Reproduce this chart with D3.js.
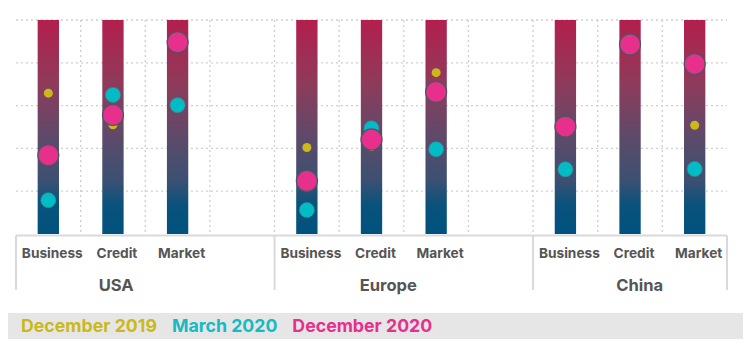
<!DOCTYPE html>
<html>
<head>
<meta charset="utf-8">
<script src="https://cdn.jsdelivr.net/npm/d3@7"></script>
<style>
  html, body { margin: 0; padding: 0; background: #fff; }
  svg { display: block; font-family: Inter, Roboto, "Liberation Sans", sans-serif; }
</style>
</head>
<body>
<svg id="chart" width="750" height="350"></svg>
<script>
// ---- data ----
const groups = ["USA", "Europe", "China"];
const subcats = ["Business", "Credit", "Market"];
const seriesNames = ["December 2019", "March 2020", "December 2020"];
const dec2019 = [3.29, 2.55, 4.47, 2.02, 2.05, 3.77, 2.50, 4.43, 2.54];
const mar2020 = [0.79, 3.25, 3.01, 0.56, 2.47, 1.98, 1.51, 4.43, 1.52];
const dec2020 = [1.84, 2.78, 4.48, 1.24, 2.21, 3.32, 2.51, 4.43, 3.97];
const yTicks = [1, 2, 3, 4, 5];

// ---- layout ----
const svg = d3.select("#chart");
const pLeft = 16, pRight = 727, pTop = 20, pBottom = 234;
const fw = 700;

// fit a font size so that a sample text gets a target width
function fitSize(sample, weight, target) {
  const t = svg.append("text").attr("font-size", 20).attr("font-weight", weight).text(sample);
  const w = t.node().getComputedTextLength();
  t.remove();
  return 20 * target / w;
}
const catSize = fitSize("Business", fw, 61);
const grpSize = fitSize("China", fw, 47);
const legSize = fitSize("December 2019", fw, 136);

// slots: 3 categories per group plus a gap slot between groups
const slots = [];
groups.forEach((g, gi) => {
  subcats.forEach(s => slots.push(g + "|" + s));
  if (gi < groups.length - 1) slots.push("gap" + gi);
});
const x = d3.scaleBand().domain(slots).range([pLeft, pRight]).paddingInner(0).paddingOuter(0);
const y = d3.scaleLinear().domain([0, 5]).range([pBottom, pTop]);
const bw = x.bandwidth();
const barW = bw * 0.33;

const points = [];
groups.forEach((g, gi) => subcats.forEach((s, si) => {
  const i = gi * 3 + si;
  points.push({ key: g + "|" + s, g, s, v: [dec2019[i], mar2020[i], dec2020[i]] });
}));

// gradient
const defs = svg.append("defs");
const grad = defs.append("linearGradient").attr("id", "barGrad")
  .attr("gradientUnits", "userSpaceOnUse")
  .attr("x1", 0).attr("x2", 0).attr("y1", y(5)).attr("y2", y(0));
[[0, "#b31f4d"], [0.3, "#8e3b5b"], [0.55, "#5d4a6a"], [0.75, "#3b5072"], [0.86, "#0a527c"], [1, "#00527f"]]
  .forEach(([o, c]) => grad.append("stop").attr("offset", o).attr("stop-color", c));

// gridlines
const grid = svg.append("g");
grid.selectAll("line.h").data(yTicks).join("line")
  .attr("x1", pLeft).attr("x2", pRight)
  .attr("y1", d => y(d)).attr("y2", d => y(d))
  .attr("stroke", "#cfcfcf").attr("stroke-width", 1.3).attr("stroke-dasharray", "2,3");
grid.append("g").selectAll("line").data(slots.slice(1)).join("line")
  .attr("x1", d => x(d)).attr("x2", d => x(d))
  .attr("y1", y(5)).attr("y2", y(0))
  .attr("stroke", "#cfcfcf").attr("stroke-width", 1.3).attr("stroke-dasharray", "2,3");

// bars
svg.append("g").selectAll("rect").data(points).join("rect")
  .attr("x", d => x(d.key) + bw / 2 - barW / 2)
  .attr("width", barW)
  .attr("y", y(5)).attr("height", y(0) - y(5))
  .attr("fill", "url(#barGrad)");

// dots
const dotStyle = [
  { r: 4.5, fill: "#cbb81a", stroke: "none" },
  { r: 7.5, fill: "#00bcc4", stroke: "#3d8a94" },
  { r: 10.5, fill: "#e6308b", stroke: "#4f5563" }
];
dotStyle.forEach((st, k) => {
  svg.append("g").selectAll("circle").data(points).join("circle")
    .attr("cx", d => x(d.key) + bw / 2)
    .attr("cy", d => y(d.v[k]))
    .attr("r", st.r)
    .attr("fill", st.fill)
    .attr("stroke", st.stroke)
    .attr("stroke-width", k === 2 ? 1.2 : 0.6);
});

// category axis boxes
const axisY = pBottom + 1.5, boxBottom = 290;
const boxC = "#d9d9d9";
svg.append("line").attr("x1", pLeft).attr("x2", pRight).attr("y1", axisY).attr("y2", axisY)
  .attr("stroke", boxC).attr("stroke-width", 2);
const groupStarts = groups.map(g => x(g + "|" + subcats[0]));
const boundaries = groupStarts.concat([pRight]);
svg.append("g").selectAll("line").data(boundaries).join("line")
  .attr("x1", d => d).attr("x2", d => d).attr("y1", axisY).attr("y2", boxBottom)
  .attr("stroke", boxC).attr("stroke-width", 2);

// category labels
svg.append("g").selectAll("text").data(points).join("text")
  .attr("x", d => x(d.key) + bw / 2 + 4)
  .attr("y", 257.5)
  .attr("text-anchor", "middle")
  .attr("font-size", catSize).attr("font-weight", fw).attr("fill", "#555")
  .text(d => d.s);

// group labels
const groupOffsets = [0.05, 0.26, 0.15];
svg.append("g").selectAll("text").data(groups).join("text")
  .attr("x", (g, i) => x(g + "|" + subcats[1]) + bw / 2 + groupOffsets[i] * bw)
  .attr("y", 291)
  .attr("text-anchor", "middle")
  .attr("font-size", grpSize).attr("font-weight", fw).attr("fill", "#555")
  .text(g => g);

// legend
svg.append("rect").attr("x", 8).attr("y", 313).attr("width", 735).attr("height", 26).attr("fill", "#e6e6e6");
const legColors = ["#cbb81a", "#17b9c2", "#e6308b"];
let lx = 21;
seriesNames.forEach((n, i) => {
  const t = svg.append("text").attr("x", lx).attr("y", 332)
    .attr("font-size", legSize).attr("font-weight", fw).attr("fill", legColors[i]).text(n);
  lx += t.node().getComputedTextLength() + 15;
});
</script>
</body>
</html>
